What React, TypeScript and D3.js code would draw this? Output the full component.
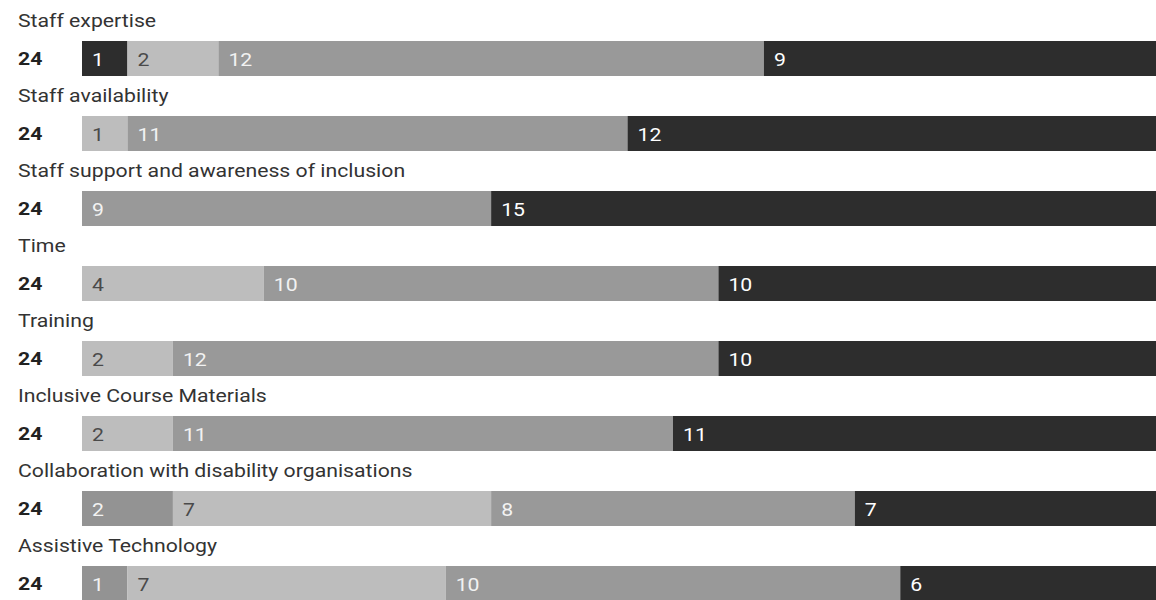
import React from "react";
import * as d3 from "d3";

const rows = [
  "Staff expertise",
  "Staff availability",
  "Staff support and awareness of inclusion",
  "Time",
  "Training",
  "Inclusive Course Materials",
  "Collaboration with disability organisations",
  "Assistive Technology",
];
const totals = [24, 24, 24, 24, 24, 24, 24, 24];
const cat1 = [1, 0, 0, 0, 0, 0, 0, 0];
const cat2 = [0, 0, 0, 0, 0, 0, 2, 1];
const cat3 = [2, 1, 0, 4, 2, 2, 7, 7];
const cat4 = [12, 11, 9, 10, 12, 11, 8, 10];
const cat5 = [9, 12, 15, 10, 10, 11, 7, 6];
const seriesKeys = ["cat1", "cat2", "cat3", "cat4", "cat5"];
const seriesColors = ["#2d2d2d", "#939393", "#bdbdbd", "#999999", "#2d2d2d"];
const labelColors = ["#ffffff", "#f2f2f2", "#4a4a4a", "#f2f2f2", "#ffffff"];

export default function App() {
  const W = 1156;
  const H = 600;
  const table = rows.map((r, i) => ({
    row: r,
    cat1: cat1[i],
    cat2: cat2[i],
    cat3: cat3[i],
    cat4: cat4[i],
    cat5: cat5[i],
  }));
  const stack = d3.stack<any>().keys(seriesKeys)(table);
  const x = d3.scaleLinear().domain([0, 24]).range([82, 1173]);
  const rowStep = 75;
  const barTop = 41;
  const barH = 35;
  const sx = 1.18;
  const font = "Roboto, 'Noto Sans', sans-serif";

  return (
    <svg
      width={W}
      height={H}
      style={{ position: "absolute", left: 0, top: 0, background: "#fff" }}
      fontFamily={font}
    >
      {rows.map((r, i) => (
        <g key={r} transform={`translate(0,${i * rowStep})`}>
          <text
            transform={`translate(18,26.5) scale(${sx},1)`}
            fontSize={18}
            fill="#333"
          >
            {r}
          </text>
          <text
            transform={`translate(18,65) scale(${sx},1)`}
            fontSize={18}
            fontWeight="bold"
            fill="#222"
          >
            {totals[i]}
          </text>
        </g>
      ))}
      {stack.map((s, si) =>
        s.map((d, i) => {
          const v = d[1] - d[0];
          if (v <= 0) return null;
          const y0 = barTop + i * rowStep;
          return (
            <g key={`${si}-${i}`}>
              <rect
                x={x(d[0])}
                y={y0}
                width={x(d[1]) - x(d[0])}
                height={barH}
                fill={seriesColors[si]}
              />
              <text
                transform={`translate(${x(d[0]) + 10},${y0 + 24.5}) scale(${sx},1)`}
                fontSize={18}
                fill={labelColors[si]}
              >
                {v}
              </text>
            </g>
          );
        })
      )}
    </svg>
  );
}
